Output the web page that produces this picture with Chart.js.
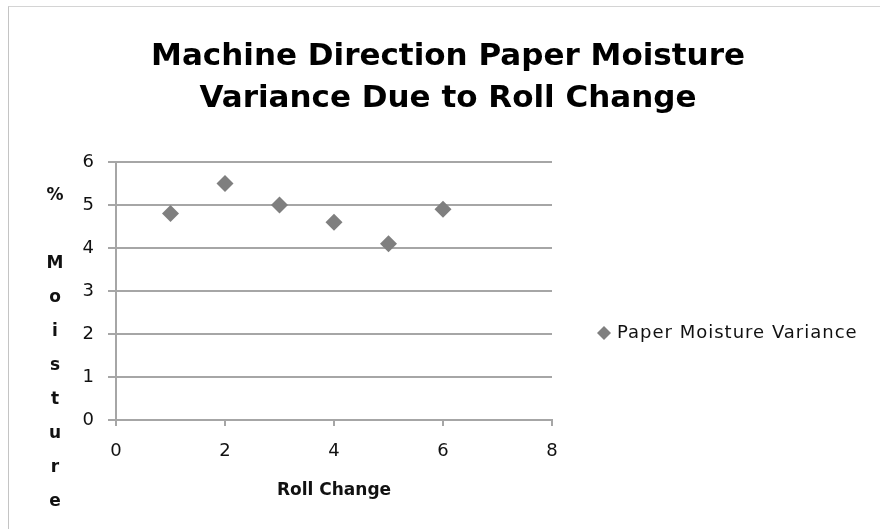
<!DOCTYPE html>
<html>
<head>
<meta charset="utf-8">
<script src="https://cdn.jsdelivr.net/npm/chart.js@4/dist/chart.umd.min.js"></script>
<style>
  html, body { margin: 0; padding: 0; background: #fff; }
  #wrap { position: relative; width: 880px; height: 529px; overflow: hidden; }
  #frame { position: absolute; left: 8px; top: 6px; width: 900px; height: 600px;
           border-left: 1px solid #c4c4c4; border-top: 1px solid #d4d4d4; }
  #moistureChart { position: absolute; left: 0; top: 0; }
</style>
</head>
<body>
<div id="wrap">
  <div id="frame"></div>
  <canvas id="moistureChart" width="880" height="529"></canvas>
</div>
<script>
// data
const rollChange = [1, 2, 3, 4, 5, 6];
const moistureVariance = [4.8, 5.5, 5.0, 4.6, 4.1, 4.9];
const seriesLabel = 'Paper Moisture Variance';
const chartTitle = ['Machine Direction Paper Moisture', 'Variance Due to Roll Change'];
const xTitle = 'Roll Change';
const yTitle = '% Moisture';

const FONT = "'DejaVu Sans', 'Open Sans', sans-serif";
const GRID = '#a6a6a6';
const MARKER = '#7f7f7f';

// y title is stacked one letter per line, so draw it by hand
const stackedYTitle = {
  id: 'stackedYTitle',
  afterDraw(chart) {
    const c = chart.ctx;
    const area = chart.chartArea;
    c.save();
    c.font = 'bold 17px ' + FONT;
    c.fillStyle = '#111';
    c.textAlign = 'center';
    c.textBaseline = 'alphabetic';
    yTitle.split('').forEach((ch, i) => {
      if (ch !== ' ') c.fillText(ch, area.left - 61, area.top + 38 + i * 34);
    });
    c.restore();
  }
};

// built-in right legend gets capped in width, so draw it beside the plot
const sideLegend = {
  id: 'sideLegend',
  afterDraw(chart) {
    const c = chart.ctx;
    const area = chart.chartArea;
    const ds = chart.data.datasets[0];
    const mx = area.right + 52;
    const my = 333;
    const r = 7;
    c.save();
    c.fillStyle = ds.backgroundColor;
    c.beginPath();
    c.moveTo(mx, my - r);
    c.lineTo(mx + r, my);
    c.lineTo(mx, my + r);
    c.lineTo(mx - r, my);
    c.closePath();
    c.fill();
    c.font = '18px ' + FONT;
    c.letterSpacing = '1px';
    c.fillStyle = '#111';
    c.textAlign = 'left';
    c.textBaseline = 'middle';
    c.fillText(ds.label, mx + 13, my);
    c.restore();
  }
};

const ctx = document.getElementById('moistureChart').getContext('2d');
const chart = new Chart(ctx, {
  type: 'scatter',
  data: {
    datasets: [{
      label: seriesLabel,
      data: rollChange.map((x, i) => ({ x: x, y: moistureVariance[i] })),
      pointStyle: 'rectRot',
      pointRadius: 8.5,
      pointHoverRadius: 8.5,
      backgroundColor: MARKER,
      borderColor: MARKER,
      borderWidth: 0
    }]
  },
  options: {
    responsive: false,
    animation: false,
    layout: { padding: { left: 16, right: 0, top: 0, bottom: 0 } },
    plugins: {
      title: {
        display: true,
        text: chartTitle,
        color: '#000',
        font: { family: FONT, size: 31, weight: 'bold', lineHeight: 1.355 },
        padding: { top: 36, bottom: 42 }
      },
      legend: { display: false },
      tooltip: { enabled: false }
    },
    scales: {
      x: {
        type: 'linear',
        min: 0,
        max: 8,
        ticks: { stepSize: 2, color: '#111', font: { family: FONT, size: 18 }, padding: 15 },
        grid: { drawOnChartArea: false, drawTicks: true, tickLength: 6, color: GRID, lineWidth: 2 },
        border: { display: true, color: GRID, width: 2 },
        title: {
          display: true,
          text: xTitle,
          color: '#111',
          font: { family: FONT, size: 17, weight: 'bold', lineHeight: 1.2 },
          padding: { top: 8, bottom: 28 }
        },
        afterFit(scale) { scale.height = 109; }
      },
      y: {
        min: 0,
        max: 6,
        ticks: { stepSize: 1, color: '#111', font: { family: FONT, size: 18 }, padding: 14 },
        grid: { color: GRID, lineWidth: 2, tickLength: 8 },
        border: { display: true, color: GRID, width: 2 },
        afterFit(scale) { scale.width = 100; }
      },
      // empty right-hand axis that only reserves room for the legend
      legendRoom: {
        position: 'right',
        min: 0,
        max: 6,
        ticks: { display: false },
        grid: { display: false },
        border: { display: false },
        afterFit(scale) { scale.width = 328; }
      }
    }
  },
  plugins: [stackedYTitle, sideLegend]
});
</script>
</body>
</html>
